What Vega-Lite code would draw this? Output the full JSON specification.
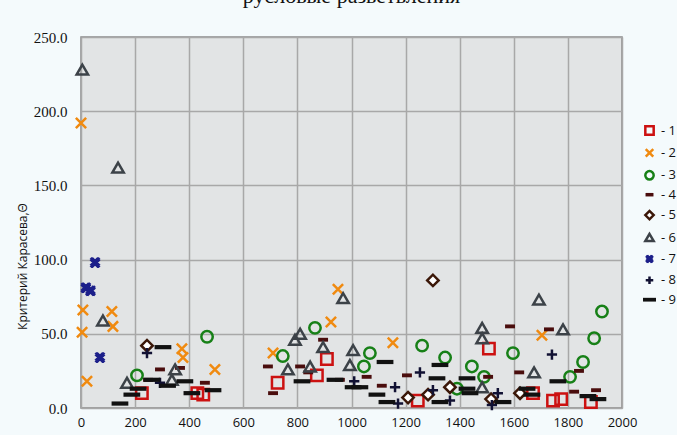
{
  "$schema": "https://vega.github.io/schema/vega-lite/v6.json",
  "width": 541,
  "height": 371,
  "autosize": "none",
  "padding": {"left": 81, "top": 37, "right": 55, "bottom": 27},
  "background": "#f4fafc",
  "title": {"text": "русловые разветвления", "font": "Liberation Serif", "fontSize": 22, "fontWeight": "normal", "color": "#111111", "anchor": "middle", "offset": 22},
  "config": {
    "view": {"stroke": "#8a8a8a", "strokeWidth": 1.5, "fill": "#e2e4e5"},
    "axis": {"gridColor": "#a8a8a8", "gridWidth": 1.5, "gridOpacity": 1, "domain": false, "ticks": false, "labelColor": "#111111"}
  },
  "data": {"values": [
    {"s":"1","x":225,"y":10},{"s":"1","x":430,"y":10},{"s":"1","x":452,"y":9},{"s":"1","x":727,"y":17},{"s":"1","x":872,"y":22},{"s":"1","x":909,"y":33},{"s":"1","x":1245,"y":5},{"s":"1","x":1508,"y":40},{"s":"1","x":1671,"y":10},{"s":"1","x":1745,"y":5},{"s":"1","x":1775,"y":6},{"s":"1","x":1885,"y":4},
    {"s":"2","x":0,"y":192},{"s":"2","x":7,"y":66},{"s":"2","x":4,"y":51},{"s":"2","x":114,"y":65},{"s":"2","x":118,"y":55},{"s":"2","x":22,"y":18},{"s":"2","x":373,"y":40},{"s":"2","x":377,"y":34},{"s":"2","x":495,"y":26},{"s":"2","x":710,"y":37},{"s":"2","x":950,"y":80},{"s":"2","x":924,"y":58},{"s":"2","x":1153,"y":44},{"s":"2","x":1704,"y":49},
    {"s":"3","x":207,"y":22},{"s":"3","x":466,"y":48},{"s":"3","x":746,"y":35},{"s":"3","x":865,"y":54},{"s":"3","x":1068,"y":37},{"s":"3","x":1046,"y":28},{"s":"3","x":1261,"y":42},{"s":"3","x":1346,"y":34},{"s":"3","x":1445,"y":28},{"s":"3","x":1490,"y":21},{"s":"3","x":1390,"y":13},{"s":"3","x":1597,"y":37},{"s":"3","x":1926,"y":65},{"s":"3","x":1897,"y":47},{"s":"3","x":1856,"y":31},{"s":"3","x":1808,"y":21},
    {"s":"4","x":248,"y":19},{"s":"4","x":292,"y":26},{"s":"4","x":366,"y":27},{"s":"4","x":458,"y":17},{"s":"4","x":691,"y":28},{"s":"4","x":710,"y":10},{"s":"4","x":810,"y":28},{"s":"4","x":840,"y":24},{"s":"4","x":895,"y":46},{"s":"4","x":957,"y":19},{"s":"4","x":1056,"y":21},{"s":"4","x":1112,"y":15},{"s":"4","x":1205,"y":22},{"s":"4","x":1505,"y":21},{"s":"4","x":1586,"y":55},{"s":"4","x":1620,"y":24},{"s":"4","x":1730,"y":53},{"s":"4","x":1841,"y":25},{"s":"4","x":1823,"y":11},{"s":"4","x":1904,"y":12},
    {"s":"5","x":244,"y":42},{"s":"5","x":1301,"y":86},{"s":"5","x":1209,"y":7},{"s":"5","x":1283,"y":9},{"s":"5","x":1364,"y":14},{"s":"5","x":1516,"y":6},{"s":"5","x":1623,"y":10},
    {"s":"6","x":5,"y":228},{"s":"6","x":137,"y":162},{"s":"6","x":81,"y":59},{"s":"6","x":170,"y":17},{"s":"6","x":348,"y":26},{"s":"6","x":336,"y":19},{"s":"6","x":810,"y":50},{"s":"6","x":791,"y":46},{"s":"6","x":765,"y":26},{"s":"6","x":847,"y":28},{"s":"6","x":895,"y":41},{"s":"6","x":969,"y":74},{"s":"6","x":1006,"y":39},{"s":"6","x":994,"y":29},{"s":"6","x":1483,"y":54},{"s":"6","x":1483,"y":47},{"s":"6","x":1693,"y":73},{"s":"6","x":1782,"y":53},{"s":"6","x":1675,"y":24},{"s":"6","x":1483,"y":14},
    {"s":"7","x":52,"y":98},{"s":"7","x":18,"y":81},{"s":"7","x":35,"y":79},{"s":"7","x":70,"y":34},
    {"s":"8","x":244,"y":37},{"s":"8","x":292,"y":17},{"s":"8","x":1010,"y":18},{"s":"8","x":1253,"y":24},{"s":"8","x":1161,"y":14},{"s":"8","x":1172,"y":3},{"s":"8","x":1364,"y":5},{"s":"8","x":1519,"y":2},{"s":"8","x":1541,"y":10},{"s":"8","x":1741,"y":36},{"s":"8","x":1301,"y":12},
    {"s":"9","x":144,"y":3},{"s":"9","x":188,"y":9},{"s":"9","x":211,"y":13},{"s":"9","x":303,"y":41},{"s":"9","x":262,"y":19},{"s":"9","x":320,"y":15},{"s":"9","x":384,"y":18},{"s":"9","x":410,"y":10},{"s":"9","x":488,"y":12},{"s":"9","x":817,"y":18},{"s":"9","x":939,"y":19},{"s":"9","x":1006,"y":14},{"s":"9","x":1031,"y":14},{"s":"9","x":1094,"y":9},{"s":"9","x":1131,"y":4},{"s":"9","x":1124,"y":31},{"s":"9","x":1327,"y":29},{"s":"9","x":1316,"y":20},{"s":"9","x":1427,"y":20},{"s":"9","x":1327,"y":4},{"s":"9","x":1438,"y":10},{"s":"9","x":1427,"y":13},{"s":"9","x":1560,"y":4},{"s":"9","x":1649,"y":13},{"s":"9","x":1667,"y":9},{"s":"9","x":1763,"y":18},{"s":"9","x":1874,"y":8},{"s":"9","x":1911,"y":6}
  ]},
  "mark": {"type": "point", "size": 130, "strokeWidth": 2.5, "opacity": 1},
  "encoding": {
    "x": {"field": "x", "type": "quantitative", "scale": {"domain": [0, 2000], "nice": false},
      "axis": {"values": [0,200,400,600,800,1000,1200,1400,1600,1800,2000], "format": "d", "title": null, "labelFont": "Open Sans", "labelFontSize": 13, "labelPadding": 8, "labelFlush": false}},
    "y": {"field": "y", "type": "quantitative", "scale": {"domain": [0, 250], "nice": false},
      "axis": {"values": [0,50,100,150,200,250], "format": ".1f", "title": "Критерий Карасева,Θ", "labelFont": "Liberation Serif", "labelFontSize": 15, "labelPadding": 14, "labelFlush": false, "titleFont": "Open Sans", "titleFontSize": 12, "titleFontWeight": "normal", "titleColor": "#111111", "titleX": -59, "titleY": 229, "titleBaseline": "middle", "titleAnchor": "middle"}},
    "stroke": {"field": "s", "type": "nominal", "scale": {"domain": ["1","2","3","4","5","6","7","8","9"], "range": ["#cc1111","#f08a10","#178017","#4a0d0d","#3b1708","#3c4248","#1c1f8a","#111133","#111111"]},
      "legend": {"title": null, "orient": "none", "legendX": 562, "legendY": 87, "labelExpr": "'- ' + datum.label", "labelFont": "Open Sans", "labelFontSize": 13, "labelColor": "#111111", "symbolSize": 70, "symbolStrokeWidth": 2.5, "rowPadding": 3.4, "labelOffset": 5}},
    "fill": {"field": "s", "type": "nominal", "scale": {"domain": ["1","2","3","4","5","6","7","8","9"], "range": ["transparent","transparent","transparent","#4a0d0d","#ffffff","transparent","transparent","transparent","#111111"]},
      "legend": {"title": null, "orient": "none", "legendX": 562, "legendY": 87, "labelExpr": "'- ' + datum.label", "labelFont": "Open Sans", "labelFontSize": 13, "labelColor": "#111111", "symbolSize": 70, "symbolStrokeWidth": 2.5, "rowPadding": 3.4, "labelOffset": 5}},
    "shape": {"field": "s", "type": "nominal", "scale": {"domain": ["1","2","3","4","5","6","7","8","9"], "range": ["square","M-0.9,-0.9L0.9,0.9M0.9,-0.9L-0.9,0.9","circle","M-0.65,-0.12H0.65V0.12H-0.65Z","diamond","triangle-up","M-0.8,-0.8L0.8,0.8M0.8,-0.8L-0.8,0.8M-0.55,-0.8L0.8,0.55M-0.8,-0.55L0.55,0.8M0.55,-0.8L-0.8,0.55M0.8,-0.55L-0.55,0.8","M-0.9,0H0.9M0,-0.9V0.9","M-1.25,-0.15H1.25V0.15H-1.25Z"]},
      "legend": {"title": null, "orient": "none", "legendX": 562, "legendY": 87, "labelExpr": "'- ' + datum.label", "labelFont": "Open Sans", "labelFontSize": 13, "labelColor": "#111111", "symbolSize": 70, "symbolStrokeWidth": 2.5, "rowPadding": 3.4, "labelOffset": 5}}
  }
}
